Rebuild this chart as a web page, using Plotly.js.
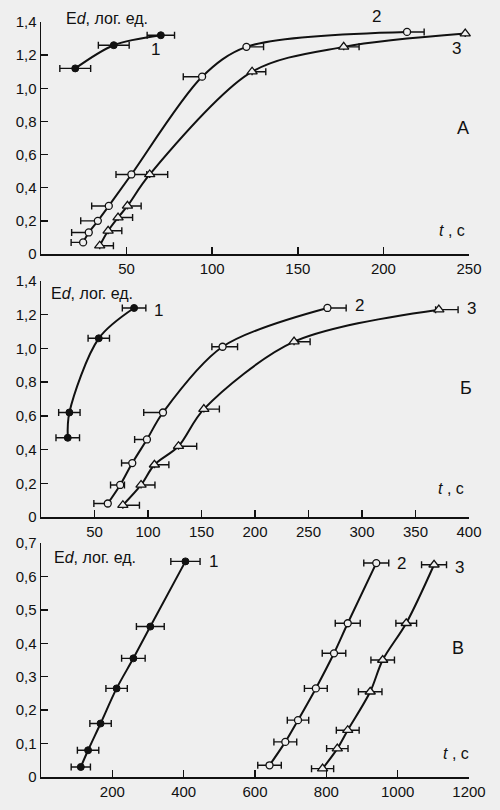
<!DOCTYPE html>
<html>
<head>
<meta charset="utf-8">
<script src="https://cdn.plot.ly/plotly-3.0.1.min.js"></script>
<style>
  html, body { margin: 0; padding: 0; background: #efefef; }
  #chart { width: 500px; height: 810px; }
</style>
</head>
<body>
<div id="chart"></div>
<script>
// ---------- Panel А ----------
const a1_t  = [20, 42.5, 70];
const a1_ed = [1.12, 1.26, 1.32];
const a1_em = [9, 9, 8];
const a1_ep = [9, 9, 8];

const a2_t  = [24.6, 27.9, 33.2, 39.6, 52.8, 94.1, 120, 213.8];
const a2_ed = [0.07, 0.13, 0.20, 0.29, 0.48, 1.07, 1.25, 1.34];
const a2_em = [7, 10, 10, 10, 9, 11, 0, 0];
const a2_ep = [0, 0, 0, 0, 9, 0, 10, 10];

const a3_t  = [34.3, 39.2, 45, 50.5, 63.5, 123.3, 176.8, 247.8];
const a3_ed = [0.05, 0.14, 0.22, 0.29, 0.48, 1.10, 1.25, 1.33];
const a3_em = [0, 0, 0, 0, 0, 0, 0, 0];
const a3_ep = [8, 8, 8.5, 8, 10.5, 8, 9, 7];

// ---------- Panel Б ----------
const b1_t  = [25, 26.5, 54, 87];
const b1_ed = [0.47, 0.62, 1.06, 1.24];
const b1_em = [11, 10, 10, 11];
const b1_ep = [11, 10, 10, 11];

const b2_t  = [62.4, 74, 85.3, 99, 114, 169.7, 267.7];
const b2_ed = [0.08, 0.19, 0.32, 0.46, 0.62, 1.01, 1.24];
const b2_em = [13, 9, 10, 11.5, 18, 10, 0];
const b2_ep = [0, 4, 0, 0, 0, 14, 17.5];

const b3_t  = [76.5, 93.5, 106, 128.5, 152.2, 236.5, 371.8];
const b3_ed = [0.07, 0.19, 0.31, 0.42, 0.64, 1.04, 1.23];
const b3_em = [0, 0, 0, 0, 0, 0, 3];
const b3_ep = [15.5, 13, 13.5, 17, 14.5, 15, 18];

// ---------- Panel В ----------
const c1_t  = [111.6, 132, 167, 212, 259, 306.5, 405];
const c1_ed = [0.03, 0.08, 0.16, 0.265, 0.355, 0.45, 0.645];
const c1_err = [27, 30, 30, 30, 33, 39, 41];

const c2_t  = [640.7, 685, 720.6, 770.6, 821.5, 860, 940];
const c2_ed = [0.035, 0.105, 0.17, 0.265, 0.37, 0.46, 0.64];
const c2_err = [33, 32, 30, 32, 33, 35, 35];

const c3_t  = [789.5, 830.8, 860, 923, 958, 1024, 1102];
const c3_ed = [0.025, 0.085, 0.14, 0.255, 0.35, 0.46, 0.635];
const c3_err = [31, 30, 32, 33, 33, 29, 35];

// ---------- Tick labels ----------
const yTicksAB = [0, 0.2, 0.4, 0.6, 0.8, 1.0, 1.2, 1.4];
const yTextAB  = ["0", "0,2", "0,4", "0,6", "0,8", "1,0", "1,2", "1,4"];
const yTicksC  = [0, 0.1, 0.2, 0.3, 0.4, 0.5, 0.6, 0.7];
const yTextC   = ["0", "0,1", "0,2", "0,3", "0,4", "0,5", "0,6", "0,7"];
const xTicksA  = [50, 100, 150, 200, 250];
const xTicksB  = [50, 100, 150, 200, 250, 300, 350, 400];
const xTicksC  = [200, 400, 600, 800, 1000, 1200];

const BG = '#efefef';
const FONT = '"Liberation Sans", Arial, sans-serif';

function errX(minus, plus) {
  return { type: 'data', symmetric: false, array: plus, arrayminus: minus,
           color: '#111', thickness: 1.4, width: 3.5 };
}
function mk(kind) {
  if (kind === 'filled') return { symbol: 'circle', size: 7, color: '#111', line: { color: '#111', width: 1 } };
  if (kind === 'open')   return { symbol: 'circle', size: 7, color: BG, line: { color: '#111', width: 1.3 } };
  return { symbol: 'triangle-up', size: 9, color: BG, line: { color: '#111', width: 1.3 } };
}
function tr(x, y, em, ep, kind, xa, ya) {
  return { x: x, y: y, xaxis: xa, yaxis: ya, type: 'scatter', mode: 'lines+markers',
           line: { color: '#111', width: 2, shape: 'spline', smoothing: 0.9 },
           marker: mk(kind), error_x: errX(em, ep), showlegend: false, cliponaxis: false };
}

const data = [
  tr(a1_t, a1_ed, a1_em, a1_ep, 'filled', 'x', 'y'),
  tr(a2_t, a2_ed, a2_em, a2_ep, 'open', 'x', 'y'),
  tr(a3_t, a3_ed, a3_em, a3_ep, 'tri', 'x', 'y'),
  tr(b1_t, b1_ed, b1_em, b1_ep, 'filled', 'x2', 'y2'),
  tr(b2_t, b2_ed, b2_em, b2_ep, 'open', 'x2', 'y2'),
  tr(b3_t, b3_ed, b3_em, b3_ep, 'tri', 'x2', 'y2'),
  tr(c1_t, c1_ed, c1_err, c1_err, 'filled', 'x3', 'y3'),
  tr(c2_t, c2_ed, c2_err, c2_err, 'open', 'x3', 'y3'),
  tr(c3_t, c3_ed, c3_err, c3_err, 'tri', 'x3', 'y3')
];

// plot area in pixels: left 41, right 469, top 22, bottom 777
const L = 41, R = 469, T = 22, B = 777;
function px(x) { return (x - L) / (R - L); }
function py(y) { return (B - y) / (B - T); }

function axisX(ticks, range, anchor) {
  return { range: range, domain: [0, 1], anchor: anchor, tickvals: ticks,
           ticktext: ticks.map(String), showline: true, linecolor: '#111', linewidth: 1.5,
           ticks: 'inside', ticklen: 7, tickwidth: 1.5, tickcolor: '#111',
           showgrid: false, zeroline: false, fixedrange: true,
           tickfont: { family: FONT, size: 15, color: '#111' } };
}
function axisY(ticks, text, range, anchor, domain) {
  return { range: range, domain: domain, anchor: anchor, tickvals: ticks, ticktext: text,
           showline: true, linecolor: '#111', linewidth: 1.5,
           ticks: 'inside', ticklen: 7, tickwidth: 1.5, tickcolor: '#111',
           showgrid: false, zeroline: false, fixedrange: true,
           tickfont: { family: FONT, size: 15, color: '#111' } };
}

const dA = [py(254), 1];
const dB = [py(517), py(281)];
const dC = [0, py(543)];

function ann(text, x, y, size, xanchor) {
  return { text: text, xref: 'paper', yref: 'paper', x: px(x), y: py(y),
           xanchor: xanchor || 'center', yanchor: 'middle', showarrow: false,
           font: { family: FONT, size: size, color: '#111' } };
}
const yLabel = 'E<i>d</i>, лог. ед.';
const tLabel = '<i>t</i> , с';

const annotations = [
  ann(yLabel, 64, 18, 16, 'left'),
  ann('1', 155, 50, 17), ann('2', 376, 17, 17), ann('3', 456, 48, 17),
  ann('А', 463, 128, 18), ann(tLabel, 452, 230, 16),

  ann(yLabel, 49, 293, 16, 'left'),
  ann('1', 158, 310, 17), ann('2', 359, 305, 17), ann('3', 471, 308, 17),
  ann('Б', 466, 388, 18), ann(tLabel, 451, 488, 16),

  ann(yLabel, 52, 557, 16, 'left'),
  ann('1', 213, 561, 17), ann('2', 401, 563, 17), ann('3', 459, 567, 17),
  ann('В', 458, 648, 18), ann(tLabel, 456, 753, 16)
];

const layout = {
  width: 500, height: 810,
  margin: { l: L, r: 500 - R, t: T, b: 810 - B, pad: 0 },
  paper_bgcolor: BG, plot_bgcolor: BG,
  font: { family: FONT, color: '#111' },
  showlegend: false,
  xaxis:  axisX(xTicksA, [0, 250], 'y'),
  yaxis:  axisY(yTicksAB, yTextAB, [0, 1.4], 'x', dA),
  xaxis2: axisX(xTicksB, [0, 400], 'y2'),
  yaxis2: axisY(yTicksAB, yTextAB, [0, 1.4], 'x2', dB),
  xaxis3: axisX(xTicksC, [0, 1200], 'y3'),
  yaxis3: axisY(yTicksC, yTextC, [0, 0.7], 'x3', dC),
  annotations: annotations
};

Plotly.newPlot('chart', data, layout, { staticPlot: true, displayModeBar: false });
</script>
</body>
</html>
